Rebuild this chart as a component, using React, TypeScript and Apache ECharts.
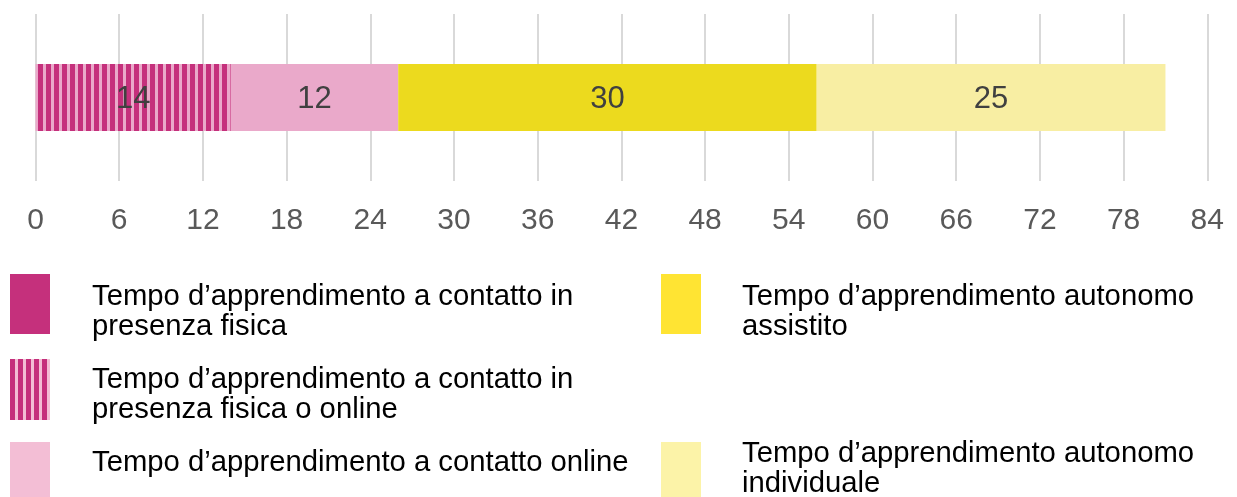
import React, { useEffect, useRef } from "react";
import * as echarts from "echarts";

const categories = ["Totale"];
const seriesNames = [
  "Tempo d’apprendimento a contatto in presenza fisica o online",
  "Tempo d’apprendimento a contatto online",
  "Tempo d’apprendimento autonomo assistito",
  "Tempo d’apprendimento autonomo individuale",
];
const seriesValues = [[14], [12], [30], [25]];
const xTicks = [0, 6, 12, 18, 24, 30, 36, 42, 48, 54, 60, 66, 72, 78, 84];

const legendLeft = [
  ["Tempo d’apprendimento a contatto in", "presenza fisica"],
  ["Tempo d’apprendimento a contatto in", "presenza fisica o online"],
  ["Tempo d’apprendimento a contatto online"],
];
const legendRight = [
  ["Tempo d’apprendimento autonomo", "assistito"],
  ["Tempo d’apprendimento autonomo", "individuale"],
];

const DARK = "#C5307C";
const PINK_BAR = "#EAA9CA";
const PINK_LEG = "#F3BED5";
const YEL_BAR = "#ECDA1E";
const YEL_LEG = "#FFE433";
const LYEL_BAR = "#F8EEA3";
const LYEL_LEG = "#FCF3A8";
const FONT = '"Liberation Sans", Arial, sans-serif';

function makeStripeUrl(): string {
  const c = document.createElement("canvas");
  c.width = 8;
  c.height = 4;
  const ctx = c.getContext("2d")!;
  ctx.fillStyle = PINK_BAR;
  ctx.fillRect(0, 0, 8, 4);
  ctx.fillStyle = DARK;
  ctx.fillRect(0, 0, 3, 4);
  ctx.fillRect(6, 0, 2, 4);
  return c.toDataURL();
}

export default function App() {
  const ref = useRef<HTMLDivElement>(null);
  useEffect(() => {
    document.body.style.margin = "0";
    const chart = echarts.init(ref.current!, null, { renderer: "svg" });
    const stripe = {
      image: makeStripeUrl(),
      repeat: "repeat",
      imageWidth: 8,
      imageHeight: 4,
    };
    const barColors: any[] = [stripe, PINK_BAR, YEL_BAR, LYEL_BAR];

    const graphics: any[] = [];
    const addLines = (x: number, middles: number[], lines: string[]) => {
      lines.forEach((t, j) => {
        graphics.push({
          type: "text",
          x,
          y: middles[j],
          style: {
            text: t,
            font: `29.25px ${FONT}`,
            fill: "#000000",
            lineHeight: 24,
            verticalAlign: "middle",
            align: "left",
          },
        });
      });
    };
    // left legend
    const leftSw = [
      { y: 274, h: 60, fill: DARK, striped: false },
      { y: 359, h: 61, fill: PINK_LEG, striped: true },
      { y: 442, h: 56, fill: PINK_LEG, striped: false },
    ];
    const leftMiddles = [
      [295, 325],
      [378, 408],
      [461],
    ];
    leftSw.forEach((s, i) => {
      graphics.push({
        type: "rect",
        shape: { x: 10, y: s.y, width: 40, height: s.h },
        style: { fill: s.fill },
      });
      if (s.striped) {
        for (let k = 0; k < 5; k++) {
          graphics.push({
            type: "rect",
            shape: { x: 10 + k * 8, y: s.y, width: 5, height: s.h },
            style: { fill: DARK },
          });
        }
      }
      addLines(92, leftMiddles[i], legendLeft[i]);
    });
    const rightSw = [
      { y: 274, h: 60, fill: YEL_LEG },
      { y: 442, h: 56, fill: LYEL_LEG },
    ];
    const rightMiddles = [
      [295, 325],
      [452, 482],
    ];
    rightSw.forEach((s, i) => {
      graphics.push({
        type: "rect",
        shape: { x: 661, y: s.y, width: 40, height: s.h },
        style: { fill: s.fill },
      });
      addLines(742, rightMiddles[i], legendRight[i]);
    });

    chart.setOption({
      animation: false,
      grid: { left: 35.5, right: 29.7, top: 14, bottom: 316, containLabel: false },
      xAxis: {
        type: "value",
        min: xTicks[0],
        max: xTicks[xTicks.length - 1],
        interval: 6,
        axisLine: { show: false },
        axisTick: { show: false },
        splitLine: { show: true, lineStyle: { color: "#D9D9D9", width: 2 } },
        axisLabel: {
          color: "#595959",
          fontSize: 30,
          fontFamily: FONT,
          margin: 22,
        },
      },
      yAxis: {
        type: "category",
        data: categories,
        show: false,
      },
      series: seriesNames.map((name, i) => ({
        name,
        type: "bar",
        stack: "total",
        barWidth: 67,
        data: seriesValues[i],
        itemStyle: { color: barColors[i] },
        label: {
          show: true,
          position: "inside",
          color: "#404040",
          fontSize: 31,
          fontFamily: FONT,
        },
      })),
      graphic: graphics,
    });
    return () => chart.dispose();
  }, []);
  return (
    <div
      ref={ref}
      style={{ position: "fixed", left: 0, top: 0, width: 1237, height: 497 }}
    />
  );
}
